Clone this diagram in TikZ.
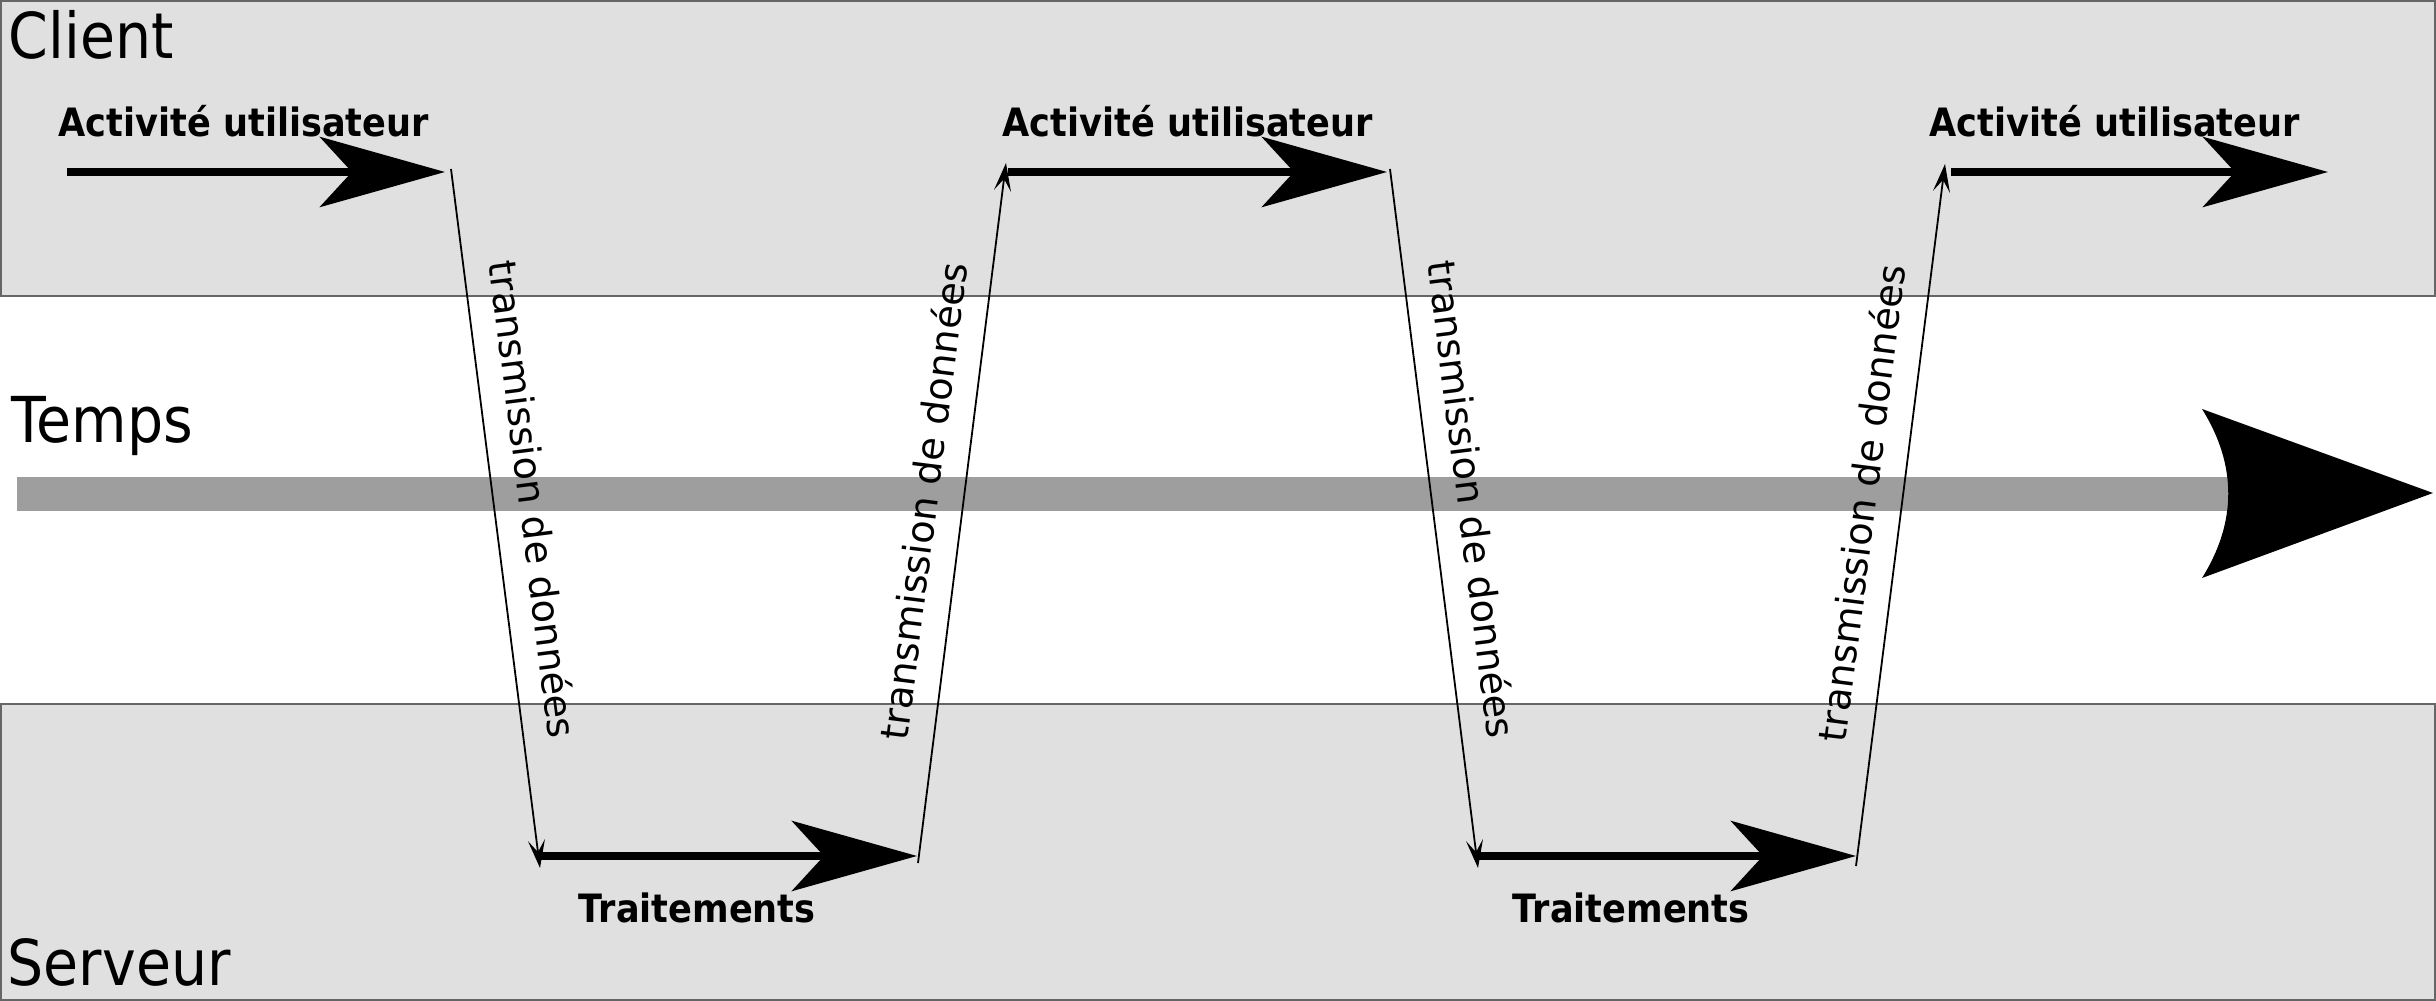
\documentclass[tikz,border=0pt]{standalone}
\usepackage{fontspec}
\setmainfont{DejaVu Sans}
\newfontfamily\nfont[FakeStretch=0.9]{DejaVu Sans}
\usetikzlibrary{arrows.meta}
\definecolor{bandfill}{HTML}{E0E0E0}
\definecolor{bandline}{HTML}{666666}
\definecolor{timebar}{HTML}{9E9E9E}
\tikzset{
  band/.style={fill=bandfill, draw=bandline, line width=0.015cm},
  bigarrow/.style={line width=0.08cm, -{Stealth[length=1.25cm, width=0.7cm, inset=0.32cm]}},
  thinarrow/.style={line width=0.018cm, -{Stealth[length=0.28cm, width=0.17cm, inset=0.12cm]}},
  title/.style={anchor=base west, inner sep=0, font=\nfont\fontsize{18}{21}\selectfont},
  actlabel/.style={anchor=base west, inner sep=0, font=\nfont\bfseries\fontsize{11.1}{14}\selectfont},
  tlabel/.style={sloped, anchor=south, inner xsep=0, inner ysep=0.24cm, font=\fontsize{10.9}{13}\selectfont},
}
\begin{document}
\begin{tikzpicture}[x=0.01cm, y=-0.01cm]
\useasboundingbox (0,0) rectangle (2436,1001);
% bands
\draw[band] (1,1) rectangle (2435,296);
\draw[band] (1,704) rectangle (2435,1000);
% time axis
\coordinate (tb1) at (17,477);
\coordinate (tb2) at (2232,511);
\fill[timebar] (tb1) rectangle (tb2);
\coordinate (hTop) at (2202,409);
\coordinate (hTip) at (2433,493);
\coordinate (hBot) at (2202,578);
\fill[black] (hTop) -- (hTip) -- (hBot) .. controls (2237,522) and (2237,465) .. (hTop) -- cycle;
% titles
\node[title] (client) at (8,59) {Client};
\node[title] (temps) at (11,443) {Temps};
\node[title] (serveur) at (7,985) {Serveur};
% activity labels
\node[actlabel] (act1) at (58,137) {Activité utilisateur};
\node[actlabel] (act2) at (1002,137) {Activité utilisateur};
\node[actlabel] (act3) at (1929,137) {Activité utilisateur};
\node[actlabel] (tr1) at (578,923) {Traitements};
\node[actlabel] (tr2) at (1512,923) {Traitements};
% thick arrows
\coordinate (a1s) at (67,172);   \coordinate (a1e) at (445,172);
\coordinate (a2s) at (1008,172); \coordinate (a2e) at (1387,172);
\coordinate (a3s) at (1951,172); \coordinate (a3e) at (2328,172);
\coordinate (b1s) at (540,856);  \coordinate (b1e) at (917,856);
\coordinate (b2s) at (1477,856); \coordinate (b2e) at (1856,856);
\draw[bigarrow] (a1s) -- (a1e);
\draw[bigarrow] (a2s) -- (a2e);
\draw[bigarrow] (a3s) -- (a3e);
\draw[bigarrow] (b1s) -- (b1e);
\draw[bigarrow] (b2s) -- (b2e);
% thin transmission arrows
\coordinate (t1s) at (451,169);  \coordinate (t1e) at (540,868);
\coordinate (t2s) at (918,863);  \coordinate (t2e) at (1006,163);
\coordinate (t3s) at (1390,169); \coordinate (t3e) at (1478,868);
\coordinate (t4s) at (1856,866); \coordinate (t4e) at (1945,164);
\draw[thinarrow] (t1s) -- node[tlabel, pos=0.48] (l1) {transmission de données} (t1e);
\draw[thinarrow] (t2s) -- node[tlabel, pos=0.51] (l2) {transmission de données} (t2e);
\draw[thinarrow] (t3s) -- node[tlabel, pos=0.48] (l3) {transmission de données} (t3e);
\draw[thinarrow] (t4s) -- node[tlabel, pos=0.51] (l4) {transmission de données} (t4e);
\end{tikzpicture}
\end{document}
